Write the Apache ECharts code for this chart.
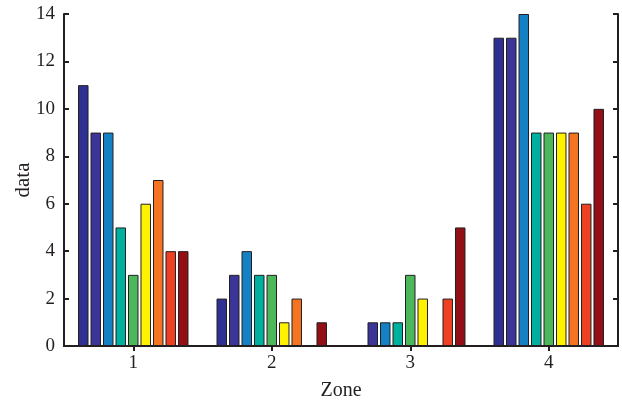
<!DOCTYPE html>
<html>
<head>
<meta charset="utf-8">
<script src="https://cdn.jsdelivr.net/npm/echarts@6/dist/echarts.min.js"></script>
<style>
  html, body { margin: 0; padding: 0; background: #fff; }
  #chart { width: 622px; height: 402px; }
</style>
</head>
<body>
<div id="chart"></div>
<script>
var zones = ['1', '2', '3', '4'];
var yTicks = [0, 2, 4, 6, 8, 10, 12, 14];

// one array per bar colour, values for zones 1..4
var s1 = [11, 2, 0, 13];
var s2 = [9, 3, 1, 13];
var s3 = [9, 4, 1, 14];
var s4 = [5, 3, 1, 9];
var s5 = [3, 3, 3, 9];
var s6 = [6, 1, 2, 9];
var s7 = [7, 2, 0, 9];
var s8 = [4, 0, 2, 6];
var s9 = [4, 1, 5, 10];

var seriesData = [s1, s2, s3, s4, s5, s6, s7, s8, s9];
var colors = ['#2e3192', '#3b3597', '#1581c5', '#00b09e', '#4cb85c', '#fff200', '#f47421', '#ee4023', '#920f16'];

var chartDom = document.getElementById('chart');
var myChart = echarts.init(chartDom);
var font = 'Liberation Serif';
var ink = '#231f20';

var series = seriesData.map(function (d, i) {
    return {
        type: 'bar',
        data: d,
        barWidth: 10.5,
        barGap: '19%',
        itemStyle: {
            color: colors[i],
            borderColor: ink,
            borderWidth: 1
        }
    };
});

var option = {
    animation: false,
    grid: { left: 64, right: 4, top: 14, bottom: 56, outerBoundsMode: 'none', containLabel: false },
    xAxis: [{
        type: 'category',
        data: zones,
        name: 'Zone',
        nameLocation: 'middle',
        nameGap: 35,
        nameMoveOverlap: false,
        nameTextStyle: { fontFamily: font, fontSize: 20, color: ink },
        axisLine: { lineStyle: { color: ink, width: 2 } },
        axisTick: { show: true, inside: true, alignWithLabel: true, length: 5, lineStyle: { color: ink, width: 2 } },
        axisLabel: { fontFamily: font, fontSize: 19, color: ink, margin: 8 },
        splitLine: { show: false }
    }, {
        type: 'category',
        data: zones,
        position: 'top',
        axisLine: { lineStyle: { color: ink, width: 2 } },
        axisTick: { show: true, inside: true, alignWithLabel: true, length: 5, lineStyle: { color: ink, width: 2 } },
        axisLabel: { show: false }
    }],
    yAxis: [{
        type: 'value',
        min: 0,
        max: 14,
        interval: 2,
        name: 'data',
        nameLocation: 'middle',
        nameGap: 30,
        nameMoveOverlap: false,
        nameTextStyle: { fontFamily: font, fontSize: 21, color: ink },
        axisLine: { show: true, lineStyle: { color: ink, width: 2 } },
        axisTick: { show: true, inside: true, length: 5, lineStyle: { color: ink, width: 2 } },
        axisLabel: {
            fontFamily: font, fontSize: 19, color: ink, margin: 9,
            formatter: function (v) { return yTicks.indexOf(v) >= 0 ? String(v) : ''; }
        },
        splitLine: { show: false }
    }, {
        type: 'value',
        min: 0,
        max: 14,
        interval: 2,
        position: 'right',
        axisLine: { show: true, lineStyle: { color: ink, width: 2 } },
        axisTick: { show: true, inside: true, length: 5, lineStyle: { color: ink, width: 2 } },
        axisLabel: { show: false },
        splitLine: { show: false }
    }],
    series: series
};

option && myChart.setOption(option);
</script>
</body>
</html>
